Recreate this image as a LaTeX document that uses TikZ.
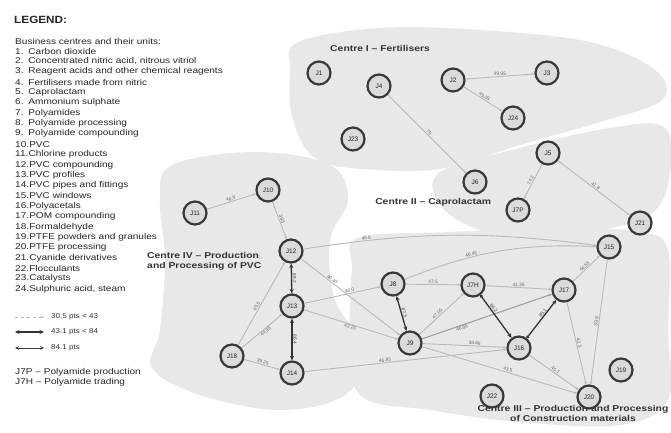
\documentclass[tikz,border=0pt]{standalone}
\usepackage{fontspec}
\setmainfont{Liberation Sans}
\usetikzlibrary{arrows.meta}
\definecolor{blob}{gray}{0.91}
\tikzset{
  unit/.style={circle, draw=black!78, line width=2.2pt, fill=gray!28, minimum size=23pt, inner sep=0pt,
    font=\fontsize{6.5}{7}\selectfont, text=black!85},
  region/.style={fill=blob, draw=none},
  weak/.style={draw=gray!55, line width=0.9pt, -{Stealth[length=3pt,width=2.5pt]}},
  mid/.style={draw=gray!75, line width=1.1pt, -{Stealth[length=3.5pt,width=3pt]}},
  strong/.style={draw=black!80, line width=1.3pt, {Circle[length=3pt]}-{Stealth[length=4.5pt,width=4pt]}},
  both/.style={draw=black!80, line width=1.3pt, {Stealth[length=4.5pt,width=4pt]}-{Stealth[length=4.5pt,width=4pt]}},
  lab/.style={font=\fontsize{4.8}{5}\selectfont, text=black!60, sloped, inner sep=0.6pt},
  legtext/.style={font=\fontsize{8.4}{9}\selectfont, text=black!85, anchor=west, inner sep=0pt, xscale=1.2},
  keytext/.style={font=\fontsize{7}{8}\selectfont, text=black!80, anchor=west, inner sep=0pt, xscale=1.15},
  ctitle/.style={font=\bfseries\fontsize{8.5}{10}\selectfont, text=black!80, inner sep=0pt, xscale=1.22}
}
\begin{document}
\begin{tikzpicture}[x=1pt,y=-1pt]
\useasboundingbox[fill=white] (0,0) rectangle (671,432);

% ---------------- regions ----------------
\fill[region] plot[smooth cycle, tension=0.6] coordinates {(298,42) (380,28) (480,30) (590,42) (655,70) (662,100) (600,122) (520,145) (445,168) (380,170) (318,160) (293,120) (290,70)};
\fill[region] plot[smooth cycle, tension=0.6] coordinates {(440,172) (520,148) (610,128) (665,128) (669,180) (650,215) (600,230) (540,236) (480,230) (440,205)};
\fill[region] plot[smooth cycle, tension=0.6] coordinates {(172,165) (255,152) (330,165) (348,200) (330,240) (335,300) (365,350) (345,395) (280,410) (200,395) (152,368) (160,330) (165,260) (160,200)};
\fill[region] plot[smooth cycle, tension=0.6] coordinates {(358,238) (450,232) (560,228) (640,232) (668,250) (668,330) (668,400) (620,425) (520,422) (430,410) (360,395) (350,330) (352,270)};

% ---------------- legend ----------------
\node[font=\bfseries\fontsize{10.5}{11}\selectfont, anchor=west, inner sep=0pt, text=black!85, xscale=1.12] (legtitle) at (14,20) {LEGEND:};
\node[legtext] (legsub) at (15,41) {Business centres and their units:};
\foreach \t [count=\i] in {Carbon dioxide, {Concentrated nitric acid, nitrous vitriol}, Reagent acids and other chemical reagents,
  Fertilisers made from nitric, Caprolactam, Ammonium sulphate, Polyamides, Polyamide processing, Polyamide compounding,
  PVC, Chlorine products, PVC compounding, PVC profiles, PVC pipes and fittings, PVC windows, Polyacetals,
  POM compounding, Formaldehyde, PTFE powders and granules, PTFE processing, Cyanide derivatives, Flocculants,
  Catalysts, {Sulphuric acid, steam}}{
  \node[legtext] (li\i) at (15,{51+(\i-1)*10.35}) {\ifnum\i<10 \makebox[11pt][l]{\i.}\t\else\i.\t\fi};
}
\coordinate (k1a) at (15,317); \coordinate (k1b) at (44,317);
\coordinate (k2a) at (15,332); \coordinate (k2b) at (44,332);
\coordinate (k3a) at (15,348); \coordinate (k3b) at (44,348);
\draw[draw=gray!55, line width=0.9pt, dashed, -{Stealth[length=3pt,width=2.5pt]}] (k1a) -- (k1b);
\draw[both] (k2a) -- (k2b);
\draw[draw=black!75, line width=1pt, {Stealth[length=4pt,width=3.5pt]}-{Stealth[length=4pt,width=3.5pt]}] (k3a) -- (k3b);
\node[keytext] (kt1) at (51,317) {30.5 pts < 43};
\node[keytext] (kt2) at (51,332) {43.1 pts < 84};
\node[keytext] (kt3) at (51,348) {84.1 pts};
\node[legtext] (lp) at (15,372) {J7P -- Polyamide production};
\node[legtext] (lh) at (15,382) {J7H -- Polyamide trading};

% ---------------- centre titles ----------------
\node[ctitle, anchor=west] (c1) at (330,48) {Centre I -- Fertilisers};
\node[ctitle, anchor=west] (c2) at (375,202) {Centre II -- Caprolactam};
\node[ctitle, anchor=north west, align=left] (c4) at (147,252) {Centre IV -- Production\\and Processing of PVC};
\node[ctitle, anchor=north, align=center] (c3) at (573,405) {Centre III -- Production and Processing\\of Construction materials};

% ---------------- units ----------------
\node[unit] (J1) at (319,73) {J1};
\node[unit] (J4) at (379,86) {J4};
\node[unit] (J2) at (453,80) {J2};
\node[unit] (J3) at (547,73) {J3};
\node[unit] (J24) at (513,118) {J24};
\node[unit] (J23) at (353,139) {J23};
\node[unit] (J6) at (475,182) {J6};
\node[unit] (J5) at (548,153) {J5};
\node[unit] (J7P) at (518,210) {J7P};
\node[unit] (J21) at (640,223) {J21};
\node[unit] (J15) at (609,247) {J15};
\node[unit] (J11) at (195,213) {J11};
\node[unit] (J10) at (268,190) {J10};
\node[unit] (J12) at (291,251) {J12};
\node[unit] (J13) at (292,306) {J13};
\node[unit] (J18) at (232,356) {J18};
\node[unit] (J14) at (292,373) {J14};
\node[unit] (J8) at (393,284) {J8};
\node[unit] (J7H) at (473,285) {J7H};
\node[unit] (J17) at (564,290) {J17};
\node[unit] (J9) at (410,343) {J9};
\node[unit] (J16) at (519,348) {J16};
\node[unit] (J19) at (621,370) {J19};
\node[unit] (J22) at (492,396) {J22};
\node[unit] (J20) at (589,397) {J20};

% ---------------- links ----------------
\draw[weak] (J2) -- node[lab, above] {49.95} (J3);
\draw[weak] (J2) -- node[lab, above] {45.05} (J24);
\draw[weak] (J4) -- node[lab, above] {75} (J6);
\draw[weak] (J5) -- node[lab, above] {74.2} (J7P);
\draw[weak] (J5) -- node[lab, above] {41.8} (J21);
\draw[weak] (J11) -- node[lab, above] {46.9} (J10);
\draw[weak] (J10) -- node[lab, above] {39.5} (J12);
\draw[weak] (J18) -- node[lab, above, pos=0.45] {45.5} (J12);
\draw[weak] (J18) -- node[lab, below, pos=0.55] {44.95} (J13);
\draw[weak] (J18) -- node[lab, above] {39.25} (J14);
\draw[weak] (J12) -- node[lab, above, pos=0.3] {40.45} (J9);
\draw[weak] (J13) -- node[lab, above, pos=0.6] {46.0} (J8);
\draw[weak] (J13) -- node[lab, below] {42.15} (J9);
\draw[weak] (J14) -- node[lab, above, pos=0.4] {46.85} (J16);
\draw[weak] (J12) to[bend left=8] node[lab, above, pos=0.2] {46.6} (J15);
\draw[weak] (J8) to[bend left=12] node[lab, above, pos=0.35] {46.45} (J15);
\draw[weak] (J8) -- node[lab, above] {47.5} (J7H);
\draw[weak] (J7H) -- node[lab, above] {41.35} (J17);
\draw[weak] (J9) -- node[lab, above, pos=0.45] {47.05} (J7H);
\draw[mid] (J9) -- node[lab, below, pos=0.3] {46.85} (J17);
\draw[weak] (J9) -- node[lab, above, pos=0.62] {38.65} (J16);
\draw[weak] (J17) -- node[lab, above] {44.55} (J15);
\draw[weak] (J9) -- node[lab, above, pos=0.55] {43.5} (J20);
\draw[weak] (J16) -- node[lab, above] {40.1} (J20);
\draw[weak] (J17) -- node[lab, above] {42.3} (J20);
\draw[weak] (J15) -- node[lab, above] {39.8} (J20);
\draw[both] (J12) -- node[lab, above, text=black!75] {89.2} (J13);
\draw[both] (J13) -- node[lab, above, text=black!75] {86.4} (J14);
\draw[both] (J8) -- node[lab, above, text=black!75] {87.5} (J9);
\draw[strong] (J7H) -- node[lab, above, text=black!75, pos=0.35] {84.2} (J16);
\draw[strong] (J16) -- node[lab, above, text=black!75, pos=0.62] {85.1} (J17);
\end{tikzpicture}
\end{document}
